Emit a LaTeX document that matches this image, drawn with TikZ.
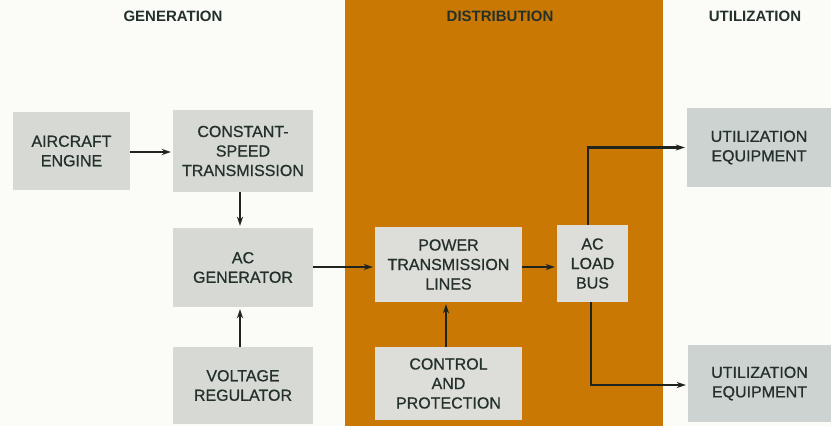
\documentclass[tikz,border=0pt]{standalone}
\usepackage{fontspec}
\setmainfont{Liberation Sans}
\newfontfamily\blockfont[FakeBold=0.7]{Liberation Sans}
\usetikzlibrary{arrows.meta}
\definecolor{paper}{HTML}{FBFBF8}
\definecolor{band}{HTML}{C97804}
\definecolor{boxgray}{HTML}{D7D9D5}
\definecolor{boxlight}{HTML}{DDDEDA}
\definecolor{utilgray}{HTML}{CDD3D0}
\definecolor{ink}{HTML}{24302A}
\definecolor{wire}{HTML}{20241F}
\tikzset{
  block/.style={fill=boxgray, text=ink, align=center,
    font=\blockfont\fontsize{16}{19.5}\selectfont, inner sep=0pt},
  onband/.style={block, fill=boxlight},
  utilbox/.style={block, fill=utilgray},
  header/.style={text=ink, font=\fontsize{15}{18}\selectfont\bfseries},
  flow/.style={draw=wire, line width=2.4pt,
    -{Stealth[length=9pt,width=6pt]}, shorten >=2pt}
}
\begin{document}
\begin{tikzpicture}[x=1pt, y=-1pt]
  % page and the distribution band
  \fill[paper] (0,0) rectangle (831,426);
  \useasboundingbox (0,0) rectangle (831,426);
  \fill[band] (345,0) rectangle (663,426);

  % column headings
  \node[header] (hgen) at (173,16) {GENERATION};
  \node[header] (hdis) at (500,16) {DISTRIBUTION};
  \node[header] (huti) at (755,16) {UTILIZATION};

  % generation blocks
  \node[block, minimum width=117pt, minimum height=78pt] (eng) at (71.5,151) {AIRCRAFT\\ENGINE};
  \node[block, minimum width=140pt, minimum height=82pt] (cst) at (243,151) {CONSTANT-\\SPEED\\TRANSMISSION};
  \node[block, minimum width=140pt, minimum height=79pt] (gen) at (243,267.5) {AC\\GENERATOR};
  \node[block, minimum width=140pt, minimum height=77pt] (vr) at (243,385.5) {VOLTAGE\\REGULATOR};

  % distribution blocks
  \node[onband, minimum width=147pt, minimum height=75pt] (ptl) at (448.5,264.5) {POWER\\TRANSMISSION\\LINES};
  \node[onband, minimum width=147pt, minimum height=73pt] (cp) at (448.5,383.5) {CONTROL\\AND\\PROTECTION};
  \node[onband, minimum width=71pt, minimum height=77pt] (bus) at (592.5,263.5) {AC\\LOAD\\BUS};

  % utilization blocks
  \node[utilbox, minimum width=144pt, minimum height=79pt] (ue1) at (759,147.5) {UTILIZATION\\EQUIPMENT};
  \node[utilbox, minimum width=143pt, minimum height=77pt] (ue2) at (759.5,383.5) {UTILIZATION\\EQUIPMENT};

  % power flow
  \draw[flow] (eng.east |- 0,152) -- (cst.west |- 0,152);
  \draw[flow] ([xshift=-3pt]cst.south) -- ([xshift=-3pt]gen.north);
  \draw[flow] ([xshift=-3pt]vr.north) -- ([xshift=-3pt]gen.south);
  \draw[flow] (gen.east |- 0,267) -- (ptl.west |- 0,267);
  \draw[flow] ([xshift=-2.5pt]cp.north) -- ([xshift=-2.5pt]ptl.south);
  \draw[flow] (ptl.east |- 0,267) -- (bus.west |- 0,267);
  \draw[flow] ([xshift=-4.5pt]bus.north) |- (ue1.west);
  \draw[flow] ([xshift=-1.5pt]bus.south) |- ([yshift=-1.5pt]ue2.west);
\end{tikzpicture}
\end{document}
